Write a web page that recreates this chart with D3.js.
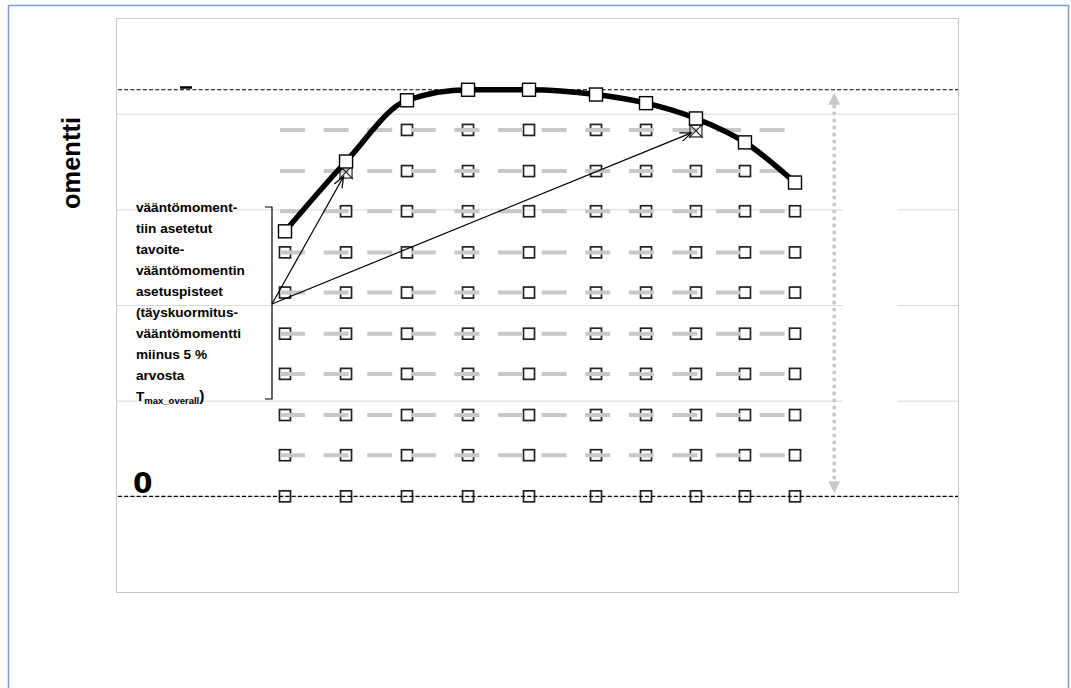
<!DOCTYPE html>
<html><head><meta charset="utf-8">
<script src="https://cdn.jsdelivr.net/npm/d3@7"></script>
<style>body{margin:0;background:#fff}svg{display:block}</style>
</head><body><svg id="c" width="1071" height="688"></svg>
<script>
// ---- data ----
const speeds = [20.07, 27.32, 34.56, 41.81, 49.05, 57.01, 62.95, 68.88, 74.70, 80.64];
const fullLoadTorque = [2.77, 3.50, 4.14, 4.25, 4.25, 4.20, 4.11, 3.95, 3.70, 3.28];
const tMaxOverall = 4.25;
const setpointLevels = [0, 0.43, 0.85, 1.28, 1.70, 2.13, 2.55, 2.98, 3.40, 3.83];
const reductionShare = 0.05;
const gridValues = [0, 1, 2, 3, 4];
const yTickLabels = ["0"];
const setpointSpan = [19.48, 79.45];
const rangeArrowSpeed = 85.3;
const axisTitle = "omentti";
const annotationLines = ["vääntömoment-", "tiin asetetut", "tavoite-", "vääntömomentin",
  "asetuspisteet", "(täyskuormitus-", "vääntömomentti", "miinus 5 %", "arvosta"];

// ---- layout ----
const FONT = "'Liberation Sans', Arial, sans-serif";
const svg = d3.select("#c");
const P = {l: 116, t: 18, r: 958, b: 592};
const x = d3.scaleLinear().domain([0, 100]).range([P.l, P.r]);
const y = d3.scaleLinear().domain([-1, 5]).range([P.b, P.t]);

// outer frame
svg.append("rect").attr("x", 8.5).attr("y", 5.5).attr("width", 1060).attr("height", 720)
  .attr("fill", "#fff").attr("stroke", "#7b9fd6").attr("stroke-width", 1.5);

// gridlines
const g = svg.append("g").attr("transform", `translate(${P.l},0)`)
  .call(d3.axisLeft(y).tickValues(gridValues).tickSize(-(P.r - P.l)).tickFormat(""));
g.select(".domain").remove();
g.selectAll(".tick line").attr("stroke", "#d9d9d9").attr("stroke-width", 1);
// gap in grid lines (hidden label area)
svg.append("rect").attr("x", 843).attr("y", y(3.2)).attr("width", 54).attr("height", y(0.9) - y(3.2)).attr("fill", "#fff");

// plot border
svg.append("rect").attr("x", P.l + 0.5).attr("y", P.t + 0.5).attr("width", P.r - P.l).attr("height", P.b - P.t)
  .attr("fill", "none").attr("stroke", "#c8c8c8").attr("stroke-width", 1);

// setpoint squares / crosses
const cells = [];
setpointLevels.forEach((lv) => {
  speeds.forEach((s, i) => {
    const sp = fullLoadTorque[i] - reductionShare * tMaxOverall;
    if (lv <= sp + 1e-9) cells.push({s, lv, kind: "sq"});
    else if (lv <= fullLoadTorque[i] + 1e-9) cells.push({s, lv, kind: "x"});
  });
});
const sq = 11;
svg.append("g").selectAll("rect").data(cells.filter(c => c.kind === "sq")).join("rect")
  .attr("x", d => x(d.s) - sq / 2).attr("y", d => y(d.lv) - sq / 2)
  .attr("width", sq).attr("height", sq).attr("fill", "none").attr("stroke", "#222").attr("stroke-width", 1.7);

// grey dashed setpoint rows
svg.append("g").selectAll("line").data(setpointLevels.filter(v => v > 0)).join("line")
  .attr("x1", x(setpointSpan[0])).attr("x2", x(setpointSpan[1]))
  .attr("y1", d => y(d)).attr("y2", d => y(d))
  .attr("stroke", "#c8c8c8").attr("stroke-width", 4).attr("stroke-dasharray", "25,18.6");

// black dashed lines at 0 and Tmax
[0, tMaxOverall].forEach(v => {
  svg.append("line").attr("x1", P.l + 2).attr("x2", P.r).attr("y1", y(v)).attr("y2", y(v))
    .attr("stroke", "#000").attr("stroke-width", 1.2).attr("stroke-dasharray", "4,2.2");
});

// cross markers
const xs = cells.filter(c => c.kind === "x");
const xg = svg.append("g").selectAll("g").data(xs).join("g")
  .attr("transform", d => `translate(${x(d.s)},${y(d.lv) + 1})`);
xg.append("rect").attr("x", -6).attr("y", -6).attr("width", 12).attr("height", 12)
  .attr("fill", "none").attr("stroke", "#222").attr("stroke-width", 1.2);
xg.append("path").attr("d", "M-7,-7L7,7M-7,7L7,-7").attr("stroke", "#222").attr("stroke-width", 1.2);

// full load curve
const pts = speeds.map((s, i) => [s, fullLoadTorque[i]]);
svg.append("path").datum(pts)
  .attr("d", d3.line().x(d => x(d[0])).y(d => y(d[1])).curve(d3.curveMonotoneX))
  .attr("fill", "none").attr("stroke", "#000").attr("stroke-width", 5.5).attr("stroke-linejoin", "round");
svg.append("g").selectAll("rect").data(pts).join("rect")
  .attr("x", d => x(d[0]) - 6.5).attr("y", d => y(d[1]) - 6.5).attr("width", 13).attr("height", 13)
  .attr("fill", "#fff").attr("stroke", "#000").attr("stroke-width", 1.4);

// bracket + arrows
const bx = 272, by = 304;
svg.append("path").attr("d", `M265,207H${bx}V399H265`).attr("fill", "none").attr("stroke", "#000").attr("stroke-width", 1.2);
xs.forEach(d => {
  const tx = x(d.s), ty = y(d.lv) + 1;
  const a = Math.atan2(ty - by, tx - bx);
  const L = Math.hypot(tx - bx, ty - by);
  const ex = bx + (L - 5) * Math.cos(a), ey = by + (L - 5) * Math.sin(a);
  svg.append("line").attr("x1", bx).attr("y1", by).attr("x2", ex).attr("y2", ey)
    .attr("stroke", "#000").attr("stroke-width", 1.2);
  const h = 12, phi = 0.38;
  svg.append("path").attr("d",
    `M${ex - h * Math.cos(a - phi)},${ey - h * Math.sin(a - phi)}L${ex},${ey}L${ex - h * Math.cos(a + phi)},${ey - h * Math.sin(a + phi)}`)
    .attr("fill", "none").attr("stroke", "#000").attr("stroke-width", 1.2);
});

// vertical grey range arrow
const ax = x(rangeArrowSpeed), yTop = y(tMaxOverall) + 3, yBot = y(0) - 3;
svg.append("line").attr("x1", ax).attr("x2", ax).attr("y1", yTop + 12).attr("y2", yBot - 12)
  .attr("stroke", "#c8c8c8").attr("stroke-width", 3.5).attr("stroke-dasharray", "3.5,3.5");
svg.append("path").attr("d", `M${ax},${yTop}L${ax - 6},${yTop + 12}L${ax + 6},${yTop + 12}Z`).attr("fill", "#c8c8c8");
svg.append("path").attr("d", `M${ax},${yBot}L${ax - 6},${yBot - 12}L${ax + 6},${yBot - 12}Z`).attr("fill", "#c8c8c8");

// small mark near top-left (hidden label remnant)
svg.append("rect").attr("x", 180).attr("y", y(tMaxOverall) - 3.5).attr("width", 12).attr("height", 2.5).attr("fill", "#000");

// "0" label
svg.append("text").attr("x", 133).attr("y", y(0) - 3).text(yTickLabels[0])
  .attr("font-family", "'DejaVu Sans', sans-serif").attr("font-weight", "bold").attr("font-size", 28).attr("fill", "#000");

// axis title (partially visible)
svg.append("text").attr("transform", "translate(80,117) rotate(-90)").attr("text-anchor", "end")
  .attr("font-family", FONT).attr("font-weight", "bold").attr("font-size", 25.5)
  .attr("fill", "#000").text(axisTitle);

// annotation text
const at = svg.append("text").attr("font-family", FONT)
  .attr("font-weight", "bold").attr("font-size", 13.6).attr("fill", "#000");
annotationLines.forEach((t, i) => at.append("tspan").attr("x", 136).attr("y", 212 + i * 21).text(t));
const last = svg.append("text").attr("x", 136).attr("y", 401).attr("font-family", FONT)
  .attr("font-weight", "bold").attr("font-size", 13.6).attr("fill", "#000");
last.append("tspan").text("T");
last.append("tspan").attr("font-size", 9.5).attr("dy", 3).text("max_overall");
last.append("tspan").attr("dy", -3).attr("font-size", 15.5).text(")");
</script></body></html>
